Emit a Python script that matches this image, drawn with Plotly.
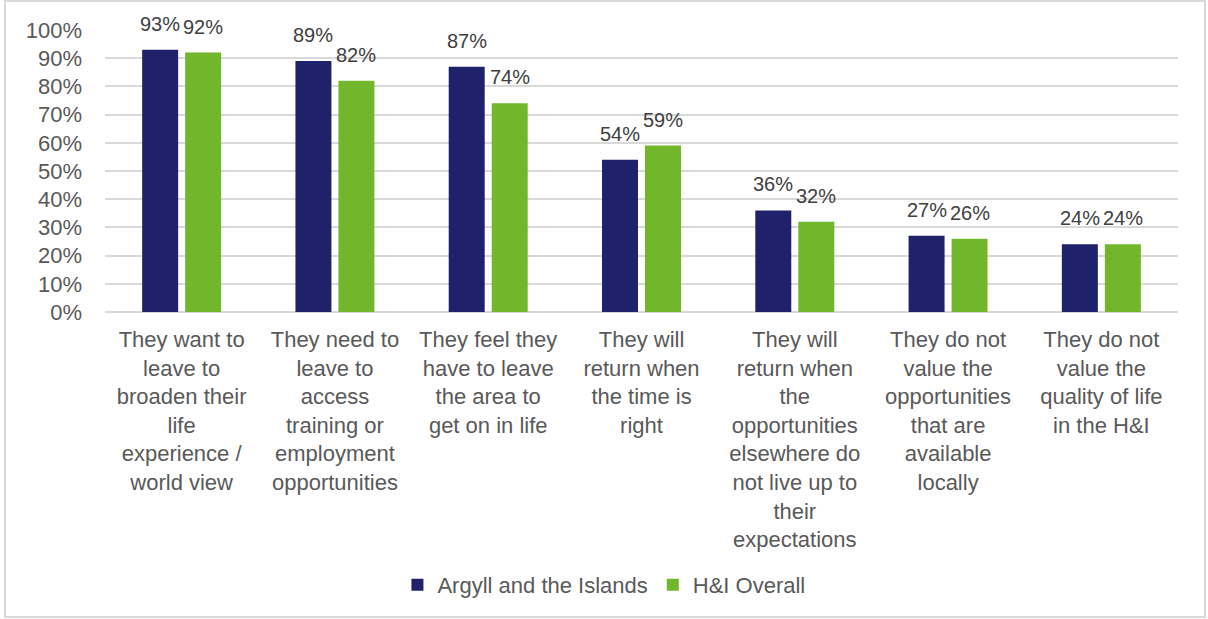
import plotly.graph_objects as go

# Reasons young people leave the area (share of respondents, %)
categories = [
    "They want to<br>leave to<br>broaden their<br>life<br>experience /<br>world view",
    "They need to<br>leave to<br>access<br>training or<br>employment<br>opportunities",
    "They feel they<br>have to leave<br>the area to<br>get on in life",
    "They will<br>return when<br>the time is<br>right",
    "They will<br>return when<br>the<br>opportunities<br>elsewhere do<br>not live up to<br>their<br>expectations",
    "They do not<br>value the<br>opportunities<br>that are<br>available<br>locally",
    "They do not<br>value the<br>quality of life<br>in the H&I",
]
argyll = [93, 89, 87, 54, 36, 27, 24]
hi_overall = [92, 82, 74, 59, 32, 26, 24]
y_ticks = list(range(0, 101, 10))
y_tick_labels = [f"{v}%" for v in y_ticks]

NAVY = "#1F226A"
GREEN = "#72B62C"
FONT = "Arial, Liberation Sans, sans-serif"

series = [("Argyll and the Islands", argyll, NAVY, -21.5),
          ("H&I Overall", hi_overall, GREEN, 21.5)]

fig = go.Figure()
annotations = []
for name, vals, color, dx in series:
    fig.add_trace(go.Bar(
        name=name, x=list(range(len(categories))), y=vals,
        marker=dict(color=color, line=dict(width=0)),
        cliponaxis=False,
    ))
    # value labels sit a little above each bar
    for i, v in enumerate(vals):
        annotations.append(dict(
            x=i, y=v, xref="x", yref="y", text=f"{v}%", showarrow=False,
            xanchor="center", yanchor="bottom", xshift=dx, yshift=13,
            font=dict(size=20, color="#404040", family=FONT),
        ))

fig.update_layout(
    width=1208, height=619,
    margin=dict(l=105, r=30, t=30, b=307),
    paper_bgcolor="white", plot_bgcolor="white",
    barmode="group", bargap=0.439, bargroupgap=0.163,
    font=dict(family=FONT, size=22, color="#595959"),
    showlegend=True,
    legend=dict(orientation="h", x=0.465, xanchor="center", y=-0.968, yanchor="middle",
                font=dict(size=22, color="#595959"), traceorder="normal",
                itemwidth=30),
    xaxis=dict(tickmode="array", tickvals=list(range(len(categories))), ticktext=categories,
               showgrid=False, showline=False, zeroline=False, ticks="",
               tickfont=dict(size=22, color="#595959"), range=[-0.5, 6.5],
               tickangle=0, ticklabelstandoff=12),
    yaxis=dict(range=[0, 100], tickmode="array", tickvals=y_ticks, ticktext=y_tick_labels,
               showgrid=True, gridcolor="#D9D9D9", gridwidth=1.5,
               zeroline=True, zerolinecolor="#D9D9D9", zerolinewidth=1.5,
               showline=False, ticks="", ticklabelstandoff=22,
               tickfont=dict(size=22, color="#595959")),
    annotations=annotations,
    shapes=[dict(type="rect", xref="paper", yref="paper",
                 x0=-100/1073, x1=1.0 + 27/1073, y0=-305/282, y1=1.0 + 29/282,
                 line=dict(color="#D9D9D9", width=2), fillcolor="rgba(0,0,0,0)")],
)

fig.write_html("out.html")
